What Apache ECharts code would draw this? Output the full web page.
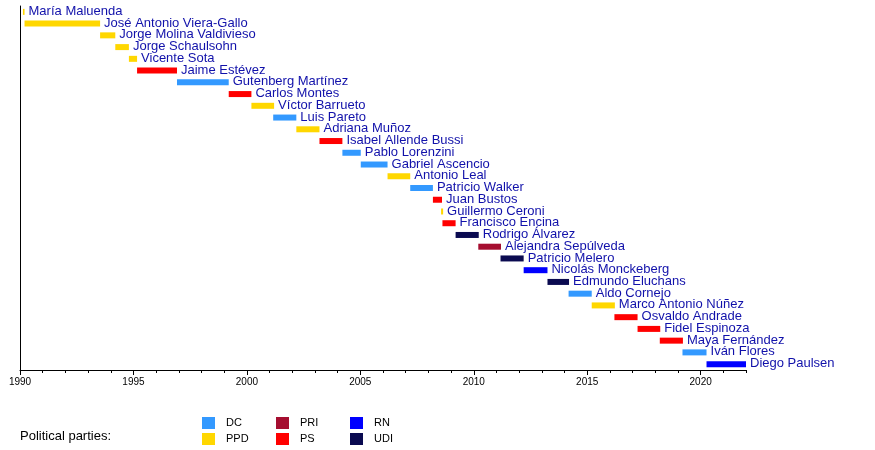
<!DOCTYPE html>
<html>
<head>
<meta charset="utf-8">
<script src="https://cdn.jsdelivr.net/npm/echarts@6/dist/echarts.min.js"></script>
<style>
  html, body { margin: 0; padding: 0; background: #fff; }
  #chart { width: 875px; height: 450px; }
</style>
</head>
<body>
<div id="chart"></div>
<script>
// presidents of the chamber, top to bottom
const names = [
    "María Maluenda", "José Antonio Viera-Gallo", "Jorge Molina Valdivieso", "Jorge Schaulsohn",
    "Vicente Sota", "Jaime Estévez", "Gutenberg Martínez", "Carlos Montes", "Víctor Barrueto",
    "Luis Pareto", "Adriana Muñoz", "Isabel Allende Bussi", "Pablo Lorenzini", "Gabriel Ascencio",
    "Antonio Leal", "Patricio Walker", "Juan Bustos", "Guillermo Ceroni", "Francisco Encina",
    "Rodrigo Álvarez", "Alejandra Sepúlveda", "Patricio Melero", "Nicolás Monckeberg",
    "Edmundo Eluchans", "Aldo Cornejo", "Marco Antonio Núñez", "Osvaldo Andrade", "Fidel Espinoza",
    "Maya Fernández", "Iván Flores", "Diego Paulsen"
];
const parties = [
    "PPD", "PPD", "PPD", "PPD", "PPD", "PS", "DC", "PS", "PPD", "DC", "PPD", "PS", "DC", "DC",
    "PPD", "DC", "PS", "PPD", "PS", "UDI", "PRI", "UDI", "RN", "UDI", "DC", "PPD", "PS", "PS",
    "PS", "DC", "RN"
];
const starts = [
    1990.13, 1990.2, 1993.53, 1994.2, 1994.8, 1995.16, 1996.92, 1999.2, 2000.2, 2001.16, 2002.18,
    2003.2, 2004.21, 2005.02, 2006.2, 2007.2, 2008.2, 2008.56, 2008.62, 2009.2, 2010.2, 2011.18,
    2012.2, 2013.25, 2014.18, 2015.2, 2016.2, 2017.22, 2018.2, 2019.2, 2020.26
];
const ends = [
    1990.2, 1993.53, 1994.2, 1994.8, 1995.16, 1996.92, 1999.2, 2000.2, 2001.2, 2002.18, 2003.2,
    2004.21, 2005.02, 2006.2, 2007.2, 2008.2, 2008.6, 2008.65, 2009.2, 2010.22, 2011.2, 2012.2,
    2013.25, 2014.2, 2015.2, 2016.22, 2017.22, 2018.22, 2019.22, 2020.26, 2022.0
];
const partyNames = ["DC", "PPD", "PRI", "PS", "RN", "UDI"];
const partyColors = {
    DC: "#3399ff", PPD: "#ffd700", PRI: "#a50e30",
    PS: "#ff0000", RN: "#0000ff", UDI: "#0a0a50"
};
const yearMin = 1990;
const yearMax = 2022;

const textColor = "#1111aa";
const font = "Liberation Sans, Arial, sans-serif";

let chart = echarts.init(document.getElementById('chart'), null, { renderer: 'canvas' });

function renderBar(params, api) {
    let row = api.value(2);
    let a = api.coord([api.value(0), row]);
    let b = api.coord([api.value(1), row]);
    let h = 6;
    return {
        type: 'group',
        children: [{
            type: 'rect',
            shape: { x: a[0], y: a[1] - h / 2, width: Math.max(b[0] - a[0], 1), height: h },
            style: { fill: api.visual('color') }
        }, {
            type: 'text',
            x: b[0] + 4,
            y: a[1] - 0.5,
            style: {
                text: names[row],
                fill: textColor,
                font: '13px ' + font,
                verticalAlign: 'middle',
                align: 'left'
            }
        }]
    };
}

let series = partyNames.map(p => {
    let data = [];
    for (let i = 0; i < names.length; i++) {
        if (parties[i] === p) data.push([starts[i], ends[i], i]);
    }
    return {
        name: p,
        type: 'custom',
        xAxisIndex: 0,
        renderItem: renderBar,
        encode: { x: [0, 1], y: 2 },
        itemStyle: { color: partyColors[p] },
        data: data,
        animation: false
    };
});

function legendCol(left, items) {
    return {
        left: left,
        top: 417,
        padding: 0,
        height: 40,
        orient: 'vertical',
        data: items,
        icon: 'rect',
        itemWidth: 13,
        itemHeight: 12,
        itemGap: 4,
        selectedMode: false,
        textStyle: { fontSize: 11, color: '#000', fontFamily: font, padding: [0, 0, 0, 6] }
    };
}

let option = {
    backgroundColor: '#fff',
    animation: false,
    textStyle: { fontFamily: font },
    title: {
        text: 'Political parties:',
        left: 15,
        top: 425,
        textStyle: { fontSize: 13, fontWeight: 'normal', color: '#000', fontFamily: font }
    },
    legend: [
        legendCol(202, ["DC", "PPD"]),
        legendCol(276, ["PRI", "PS"]),
        legendCol(350, ["RN", "UDI"])
    ],
    grid: {
        left: 20,
        right: 129,
        top: 6,
        bottom: 80
    },
    xAxis: [{
        type: 'value',
        min: yearMin,
        max: yearMax,
        interval: 1,
        axisLine: { show: true, lineStyle: { color: '#000', width: 1 } },
        axisTick: { show: true, length: 3, lineStyle: { color: '#000' } },
        axisLabel: { show: false },
        splitLine: { show: false }
    }, {
        type: 'value',
        position: 'bottom',
        min: yearMin,
        max: yearMax,
        interval: 5,
        axisLine: { show: false },
        axisTick: { show: true, length: 5, lineStyle: { color: '#000' } },
        axisLabel: {
            fontSize: 10,
            color: '#000',
            margin: 7,
            showMaxLabel: false,
            fontFamily: font,
            formatter: v => String(v)
        },
        splitLine: { show: false }
    }],
    yAxis: {
        type: 'category',
        data: names,
        inverse: true,
        axisLine: { show: true, lineStyle: { color: '#000', width: 1 } },
        axisTick: { show: false },
        axisLabel: { show: false },
        splitLine: { show: false }
    },
    series: series
};

chart.setOption(option);
</script>
</body>
</html>
